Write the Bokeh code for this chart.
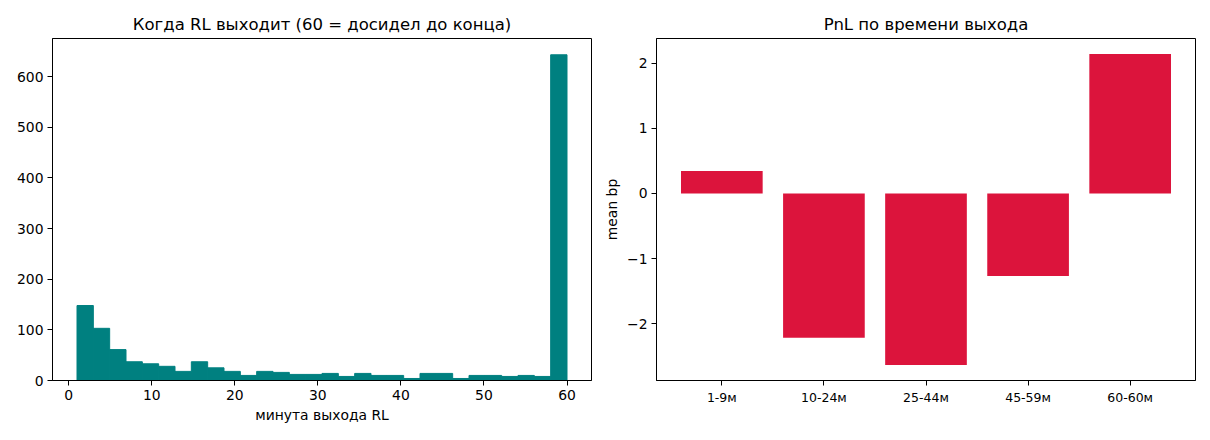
import numpy as np
from bokeh.plotting import figure
from bokeh.layouts import row
from bokeh.models import Range1d, FixedTicker, CustomJSTickFormatter
from bokeh.embed import file_html
from bokeh.resources import INLINE

# ---- data ----
hist_counts = [148, 103, 61, 37, 33, 28, 18, 37, 25, 18, 10, 18, 16, 12, 12,
               14, 8, 14, 10, 10, 4, 14, 14, 4, 10, 10, 8, 10, 8, 643]
bin_lo, bin_hi = 1, 60
hist_xticks = [0, 10, 20, 30, 40, 50, 60]
hist_yticks = [0, 100, 200, 300, 400, 500, 600]

exit_buckets = ["1-9м", "10-24м", "25-44м", "45-59м", "60-60м"]
mean_bp = [0.343, -2.216, -2.634, -1.268, 2.14]
pnl_yticks = [-2, -1, 0, 1, 2]

FONT = "DejaVu Sans"


def style(p):
    p.title.text_font = FONT
    p.title.text_font_size = "16.5px"
    p.title.text_font_style = "normal"
    p.title.align = "center"
    p.title.text_color = "black"
    p.xgrid.visible = False
    p.ygrid.visible = False
    p.outline_line_color = "black"
    p.outline_line_alpha = 1
    p.outline_line_width = 1
    for ax in (p.xaxis, p.yaxis):
        ax.major_label_text_font = FONT
        ax.major_label_text_font_size = "13.9px"
        ax.major_label_text_color = "black"
        ax.axis_label_text_font = FONT
        ax.axis_label_text_font_size = "13.9px"
        ax.axis_label_text_font_style = "normal"
        ax.axis_label_text_color = "black"
        ax.minor_tick_line_color = None
        ax.major_tick_in = 0
        ax.major_tick_out = 5
        ax.major_tick_line_color = "black"
        ax.axis_line_color = "black"
        ax.major_label_standoff = 4
        ax.axis_label_standoff = 4


# ---- left: histogram ----
n_bins = len(hist_counts)
edges = np.linspace(bin_lo, bin_hi, n_bins + 1)
pad_x = (bin_hi - bin_lo) * 0.05
ymax = max(hist_counts) * 1.05

p1 = figure(frame_width=539, frame_height=342, output_backend="svg",
            toolbar_location=None,
            title="Когда RL выходит (60 = досидел до конца)",
            x_range=Range1d(bin_lo - pad_x, bin_hi + pad_x),
            y_range=Range1d(0, ymax),
            min_border_left=52, min_border_right=5,
            min_border_top=38, min_border_bottom=38)
p1.quad(left=edges[:-1], right=edges[1:], bottom=0, top=hist_counts,
        fill_color="#008080", line_color="#008080", line_width=1)
style(p1)
p1.xaxis.ticker = FixedTicker(ticks=hist_xticks)
p1.yaxis.ticker = FixedTicker(ticks=hist_yticks)
p1.xaxis.axis_label = "минута выхода RL"

# ---- right: PnL bars ----
xs = list(range(len(exit_buckets)))
lo, hi = min(mean_bp), max(mean_bp)
span = hi - lo
p2 = figure(frame_width=539, frame_height=342, output_backend="svg",
            toolbar_location=None,
            title="PnL по времени выхода",
            x_range=Range1d(-0.4 - 0.24, len(xs) - 1 + 0.4 + 0.24),
            y_range=Range1d(lo - 0.05 * span, hi + 0.05 * span),
            min_border_left=60, min_border_right=7,
            min_border_top=38, min_border_bottom=38)
p2.vbar(x=xs, width=0.8, top=mean_bp, bottom=0,
        fill_color="#DC143C", line_color=None)
style(p2)
p2.xaxis.ticker = FixedTicker(ticks=xs)
p2.xaxis.major_label_overrides = {i: lab for i, lab in zip(xs, exit_buckets)}
p2.xaxis.major_label_text_font_size = "12.5px"
p2.yaxis.ticker = FixedTicker(ticks=pnl_yticks)
p2.yaxis.formatter = CustomJSTickFormatter(
    code="return tick < 0 ? '\u2212' + Math.abs(tick) : String(tick);")
p2.yaxis.axis_label = "mean bp"

layout = row(p1, p2)
open("out.html", "w").write(file_html(layout, INLINE))
